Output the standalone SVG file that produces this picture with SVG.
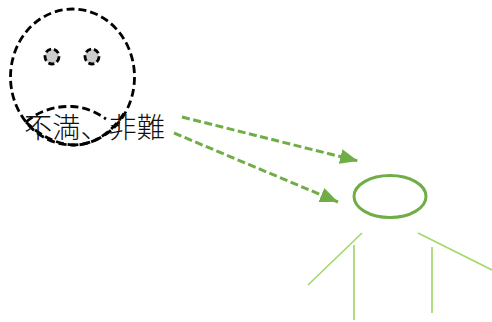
<svg xmlns="http://www.w3.org/2000/svg" width="492" height="322" viewBox="0 0 492 322">
<style>
.k{fill:none;stroke:#000;stroke-width:2.800;stroke-dasharray:8 4}
.e{fill:#ccc;stroke:#000;stroke-width:2.800;stroke-dasharray:6 3}
.a{fill:none;stroke:#70ad47;stroke-width:3;stroke-dasharray:8 3.500}
.l{stroke:#a4d86b;stroke-width:1.700;fill:none}
text{font-family:"Noto Sans CJK JP","Noto Sans CJK SC",sans-serif;font-size:28px;font-weight:300;fill:#111}
</style>
<defs><marker id="h" markerUnits="userSpaceOnUse" markerWidth="20" markerHeight="16" refX="18" refY="7.500" orient="auto"><path d="M0 0L18 7.500L0 15Z" fill="#70ad47"/></marker></defs>
<g id="face">
<ellipse class="k" cx="72.500" cy="77" rx="62" ry="68"/>
<ellipse class="e" cx="52" cy="56.500" rx="7" ry="7.500"/>
<ellipse class="e" cx="92" cy="56.500" rx="7" ry="7.500"/>
<path class="k" d="M26 122C40 110 56 106 72 106.500C85 107 96 112 106 119"/>
<path class="k" d="M26 122C40 136 58 145 75 145C92 145 112 134 126 110"/>
</g>
<g id="label"><text x="24" y="138" textLength="141" lengthAdjust="spacingAndGlyphs">不満、非難</text></g>
<g id="connectors">
<path class="a" d="M182 117L358 161" marker-end="url(#h)"/>
<path class="a" d="M174 133L338 202" marker-end="url(#h)"/>
</g>
<g id="person">
<ellipse cx="390" cy="196.500" rx="36" ry="21" fill="none" stroke="#70ad47" stroke-width="3"/>
<path class="l" d="M362 233L308 285M354 245V320M418 233L492 270M432 247V313"/>
</g>
</svg>
